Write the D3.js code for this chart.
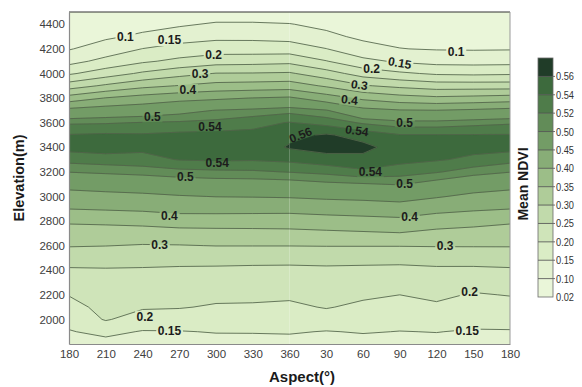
<!DOCTYPE html>
<html><head><meta charset="utf-8">
<script src="https://cdn.jsdelivr.net/npm/d3@7"></script>
<style>
body{margin:0;background:#fff;}
text{font-family:"Liberation Sans",Arial,Helvetica,sans-serif;}
</style></head><body>
<svg id="chart" width="582" height="387"></svg>
<script>
// ---------- DATA ----------
// aspect columns, unwrapped from 180° (0 = 180°, 180 = 360°, 360 = 180°)
const aspectColumns = [0,30,60,90,120,150,180,210,240,270,300,330,360];
const aspectTickLabels = [180,210,240,270,300,330,360,30,60,90,120,150,180];
const elevations = [1800,1900,2000,2100,2200,2300,2400,2500,2600,2700,2800,2900,3000,3100,3200,3300,3400,3500,3600,3700,3800,3900,4000,4100,4200,4300,4400,4500];
const elevationTicks = [2000,2200,2400,2600,2800,3000,3200,3400,3600,3800,4000,4200,4400];
// Mean NDVI, one row per elevation (ascending), one value per aspect column
const ndviRows = [
 [.136,.134,.138,.133,.135,.137,.134,.136,.133,.135,.137,.132,.136],
 [.147,.162,.147,.148,.152,.152,.154,.148,.153,.149,.151,.146,.147],
 [.165,.204,.179,.176,.173,.173,.172,.178,.170,.167,.171,.165,.165],
 [.183,.215,.205,.203,.195,.194,.191,.203,.190,.183,.192,.181,.183],
 [.202,.225,.218,.216,.212,.211,.208,.216,.208,.200,.210,.196,.202],
 [.223,.236,.232,.230,.227,.226,.224,.229,.224,.219,.226,.217,.223],
 [.244,.246,.245,.243,.242,.241,.240,.242,.240,.238,.242,.241,.244],
 [.272,.270,.268,.266,.266,.264,.264,.265,.265,.265,.268,.270,.272],
 [.303,.301,.297,.298,.301,.301,.301,.302,.302,.302,.303,.303,.303],
 [.328,.328,.328,.331,.333,.334,.336,.340,.344,.348,.337,.332,.328],
 [.357,.360,.365,.374,.375,.375,.375,.380,.384,.388,.375,.367,.357],
 [.401,.405,.409,.417,.417,.416,.415,.420,.424,.429,.415,.407,.401],
 [.432,.437,.441,.447,.451,.452,.454,.459,.462,.467,.454,.440,.432],
 [.466,.471,.475,.482,.486,.487,.489,.495,.498,.502,.489,.475,.466],
 [.501,.505,.509,.514,.516,.517,.521,.526,.536,.530,.522,.510,.501],
 [.528,.531,.533,.541,.543,.542,.545,.552,.555,.546,.542,.536,.528],
 [.547,.550,.545,.552,.553,.548,.562,.568,.565,.552,.550,.546,.547],
 [.541,.543,.542,.545,.546,.545,.555,.562,.553,.541,.541,.541,.541],
 [.517,.518,.521,.523,.526,.534,.541,.533,.517,.508,.508,.513,.517],
 [.465,.475,.480,.490,.501,.506,.513,.502,.464,.453,.451,.457,.465],
 [.372,.402,.421,.436,.443,.451,.457,.425,.390,.370,.360,.365,.372],
 [.275,.308,.336,.352,.367,.371,.375,.343,.304,.288,.275,.275,.275],
 [.193,.225,.258,.283,.302,.303,.306,.271,.229,.208,.193,.190,.193],
 [.133,.165,.192,.212,.228,.231,.236,.202,.162,.143,.133,.132,.133],
 [.097,.121,.151,.167,.177,.176,.175,.151,.119,.101,.097,.096,.097],
 [.085,.093,.108,.129,.138,.138,.133,.112,.090,.088,.085,.085,.085],
 [.075,.080,.085,.093,.106,.106,.102,.088,.078,.075,.075,.075,.075],
 [.070,.065,.065,.070,.070,.070,.070,.065,.065,.065,.065,.065,.070]
];
const levels = [0.02,0.10,0.15,0.20,0.25,0.30,0.35,0.40,0.45,0.50,0.52,0.54,0.56];
const levelLabels = ["0.02","0.10","0.15","0.20","0.25","0.30","0.35","0.40","0.45","0.50","0.52","0.54","0.56"];
const levelColors = ["#eaf6d9","#e3f1d0","#daecc5","#cfe4b9","#c1daab","#afcc99","#9cbe88","#88ad77","#739c66","#628c58","#4f7c4a","#3d6a3d","#203c28"];
// contour labels: text, aspect (unwrapped), elevation, rotation
const contourLabelText = ["0.1","0.15","0.2","0.3","0.4","0.5","0.54","0.54","0.5","0.4","0.3","0.2","0.15","0.56","0.54","0.5","0.54","0.5","0.4","0.3","0.2","0.15","0.1","0.15","0.2","0.3","0.4"];
const contourLabelAspect = [46,82,118,107,97,68,115,121,95,82,74,62,82,189,235,274,246,274,278,307,327,325,316,270,247,237,229];
const contourLabelElev = [4297,4273,4150,3997,3867,3648,3567,3274,3160,2843,2607,2024,1910,3500,3535,3600,3200,3100,2832,2597,2227,1910,4175,4086,4037,3907,3786];
const contourLabelRot = [0,0,0,0,0,0,0,0,0,0,0,0,0,-22,8,0,0,0,0,0,0,0,0,10,0,8,6];

// ---------- LAYOUT ----------
const W = 582, H = 387;
const plot = {left:69, right:510, top:12, bottom:344};
const svg = d3.select("#chart");
svg.append("rect").attr("width",W).attr("height",H).attr("fill","#fff");

const x = d3.scaleLinear().domain([0,360]).range([plot.left, plot.right]);
const y = d3.scaleLinear().domain([1800,4500]).range([plot.bottom, plot.top]);

const defs = svg.append("defs");
defs.append("clipPath").attr("id","plotClip").append("rect")
  .attr("x",plot.left).attr("y",plot.top)
  .attr("width",plot.right-plot.left).attr("height",plot.bottom-plot.top);
const mask = defs.append("mask").attr("id","labelMask")
  .attr("maskUnits","userSpaceOnUse").attr("x",0).attr("y",0).attr("width",W).attr("height",H);
mask.append("rect").attr("width",W).attr("height",H).attr("fill","white");

// grid -> contours
const gw = aspectColumns.length, gh = elevations.length;
const values = [];
ndviRows.forEach(r => r.forEach(v => values.push(v)));
const contours = d3.contours().size([gw, gh]).thresholds(levels)(values);
const colStep = aspectColumns[1]-aspectColumns[0];
const rowStep = elevations[1]-elevations[0];
const proj = d3.geoTransform({point(u, v){
  this.stream.point(x(aspectColumns[0] + (u-0.5)*colStep), y(elevations[0] + (v-0.5)*rowStep));
}});
const path = d3.geoPath(proj);

const gFill = svg.append("g").attr("clip-path","url(#plotClip)");
gFill.append("rect").attr("x",plot.left).attr("y",plot.top)
  .attr("width",plot.right-plot.left).attr("height",plot.bottom-plot.top).attr("fill",levelColors[0]);
gFill.selectAll("path").data(contours).join("path")
  .attr("d",path)
  .attr("fill",(d,i)=>levelColors[i])
  .attr("stroke",(d,i)=>levelColors[i]).attr("stroke-width",0.4);

// faint seam at 360°
gFill.append("line").attr("x1",x(180)).attr("x2",x(180)).attr("y1",plot.top).attr("y2",plot.bottom)
  .attr("stroke","#ffffff").attr("stroke-opacity",0.22).attr("stroke-width",1);

// contour labels (mask rects hide the lines under them)
const gLabels = svg.append("g");
contourLabelText.forEach((t,i)=>{
  const tr = `translate(${x(contourLabelAspect[i])},${y(contourLabelElev[i])}) rotate(${contourLabelRot[i]})`;
  const g = gLabels.append("g").attr("transform",tr);
  const txt = g.append("text").text(t)
    .attr("text-anchor","middle").attr("dy","0.35em")
    .attr("font-size",12).attr("font-weight","bold").attr("fill","#1c1c1c");
  const bb = txt.node().getBBox();
  mask.append("rect").attr("transform",tr)
    .attr("x",bb.x-1.5).attr("y",bb.y+1).attr("width",bb.width+3).attr("height",bb.height-2)
    .attr("fill","black");
});

const gLines = svg.insert("g", function(){ return gLabels.node(); })
  .attr("clip-path","url(#plotClip)");
const gLinesInner = gLines.append("g").attr("mask","url(#labelMask)");
gLinesInner.selectAll("path").data(contours.slice(1)).join("path")
  .attr("d",path).attr("fill","none")
  .attr("stroke","#52644a").attr("stroke-opacity",0.85).attr("stroke-width",1);

// frame
svg.append("line").attr("x1",plot.left).attr("x2",plot.right).attr("y1",plot.top).attr("y2",plot.top)
  .attr("stroke","#333").attr("stroke-width",1);
svg.append("line").attr("x1",plot.right).attr("x2",plot.right).attr("y1",plot.top).attr("y2",plot.bottom)
  .attr("stroke","#999").attr("stroke-width",1);

// axes
const xAxis = svg.append("g").attr("transform",`translate(0,${plot.bottom})`)
  .call(d3.axisBottom(x).tickValues(aspectColumns).tickFormat((d,i)=>aspectTickLabels[i]).tickSize(0).tickPadding(6));
const yAxis = svg.append("g").attr("transform",`translate(${plot.left},0)`)
  .call(d3.axisLeft(y).tickValues(elevationTicks).tickFormat(d3.format("d")).tickSize(0).tickPadding(4));
[xAxis,yAxis].forEach(a=>{
  a.select(".domain").attr("stroke","#8a8a8a").attr("stroke-width",1.2);
  a.selectAll("text").attr("font-size",11.5).attr("fill","#404040")
    .attr("font-family","'Liberation Sans',Arial,sans-serif");
});

// axis titles
svg.append("text").attr("x",302).attr("y",382).attr("text-anchor","middle")
  .attr("font-size",15).attr("font-weight","bold").attr("fill","#1a1a1a").text("Aspect(°)");
svg.append("text").attr("transform",`translate(24,${(plot.top+plot.bottom)/2}) rotate(-90)`)
  .attr("text-anchor","middle").attr("font-size",14.5).attr("font-weight","bold").attr("fill","#1a1a1a")
  .text("Elevation(m)");

// colorbar
const cb = {x:538, w:15, top:58, bottom:297};
const cbY = d3.scaleLinear().domain([0, levels.length]).range([cb.bottom, cb.top]);
const gcb = svg.append("g");
gcb.selectAll("rect.band").data(levelColors).join("rect").attr("class","band")
  .attr("x",cb.x).attr("width",cb.w)
  .attr("y",(d,i)=>cbY(i+1)).attr("height",(d,i)=>cbY(i)-cbY(i+1))
  .attr("fill",d=>d);
gcb.selectAll("line.tick").data(levels.slice(1)).join("line").attr("class","tick")
  .attr("x1",cb.x).attr("x2",cb.x+cb.w+2)
  .attr("y1",(d,i)=>cbY(i+1)).attr("y2",(d,i)=>cbY(i+1))
  .attr("stroke","#4a4a4a").attr("stroke-width",0.8);
gcb.append("rect").attr("x",cb.x).attr("y",cb.top).attr("width",cb.w).attr("height",cb.bottom-cb.top)
  .attr("fill","none").attr("stroke","#6a6a6a").attr("stroke-width",0.8);
gcb.selectAll("text.lab").data(levelLabels).join("text").attr("class","lab")
  .attr("x",cb.x+cb.w+3).attr("y",(d,i)=>cbY(i)).attr("dy","0.35em")
  .attr("font-size",11.5).attr("fill","#333")
  .attr("textLength",18).attr("lengthAdjust","spacingAndGlyphs")
  .text(d=>d);
svg.append("text").attr("transform",`translate(528,184) rotate(-90)`)
  .attr("text-anchor","middle").attr("font-size",14).attr("font-weight","bold").attr("fill","#1a1a1a")
  .text("Mean NDVI");
</script>
</body></html>
